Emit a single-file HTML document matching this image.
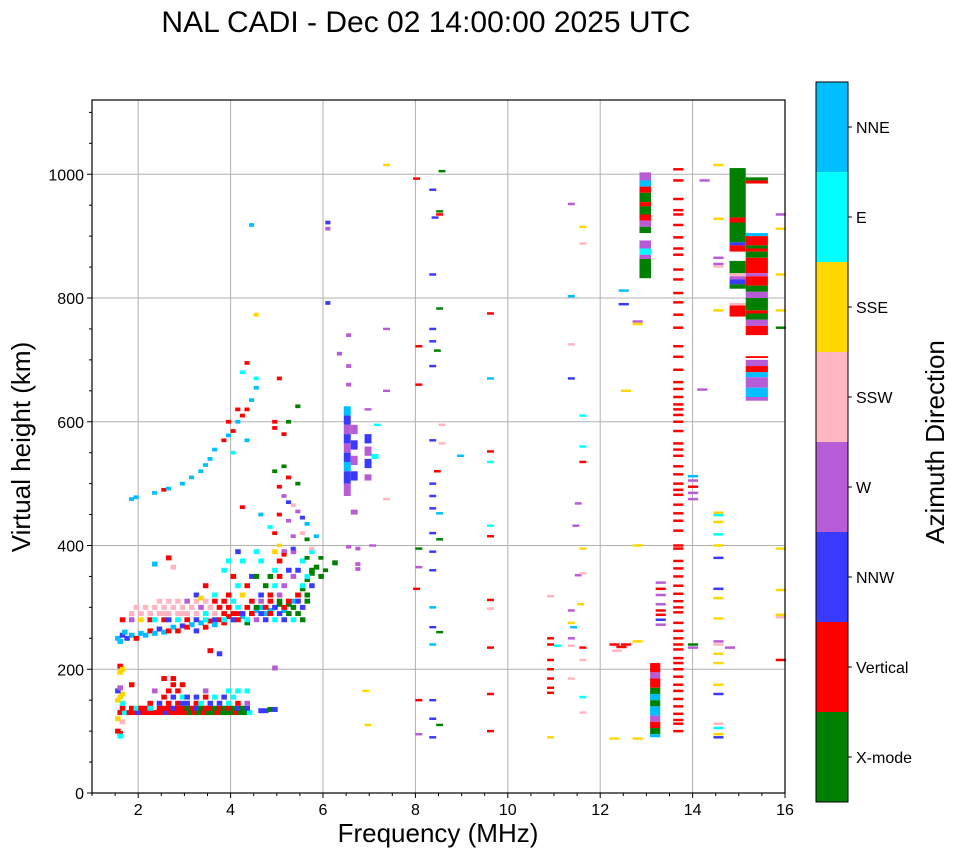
<!DOCTYPE html>
<html><head><meta charset="utf-8">
<style>
html,body{margin:0;padding:0;background:#fff;}
svg{display:block;font-family:"Liberation Sans","DejaVu Sans",sans-serif;}
</style></head>
<body>
<svg id="chart" width="958" height="857" viewBox="0 0 958 857" xmlns="http://www.w3.org/2000/svg">
<text x="426" y="32" font-size="30" text-anchor="middle">NAL CADI - Dec 02 14:00:00 2025 UTC</text>
<g id="grid"></g>
<g id="marks"></g>
<g id="axes"></g>
<text x="438" y="842" font-size="26" text-anchor="middle">Frequency (MHz)</text>
<text transform="translate(30,447) rotate(-90)" font-size="26" text-anchor="middle">Virtual height (km)</text>
<g id="cbar"></g>
<text transform="translate(944,442) rotate(-90)" font-size="26" text-anchor="middle">Azimuth Direction</text>
</svg>
<script>
// ---- data ----
const dirNames = ["X-mode","Vertical","NNW","W","SSW","SSE","E","NNE"];
const dirColors = ["#008000","#ff0000","#3a3aff","#b85bd6","#ffb6c1","#ffd700","#00ffff","#00bfff"];
const xTicks = [2,4,6,8,10,12,14,16];
const yTicks = [0,200,400,600,800,1000];

// [freq, height, dir]
const eLayer = [
[1.55,130,1],[1.65,130,6],[1.75,130,1],[1.85,130,1],[1.95,130,2],[2.05,130,1],[2.15,130,1],[2.25,130,1],[2.35,130,1],[2.45,130,1],[2.55,130,2],[2.65,130,1],[2.75,130,1],[2.85,130,1],[2.95,130,1],[3.05,130,0],[3.15,130,1],[3.25,130,0],[3.35,130,1],[3.45,130,0],[3.55,130,0],[3.65,130,1],[3.75,130,0],[3.85,130,0],[3.95,130,0],[4.05,130,1],[4.15,130,0],[4.25,130,0],[4.35,130,6],[4.6,133,2],[4.7,133,2],[4.8,135,0],[4.9,135,2],
[1.6,137,1],[1.8,137,1],[1.9,137,6],[2.0,137,1],[2.1,137,1],[2.2,137,6],[2.4,137,1],[2.5,137,1],[2.6,137,1],[2.7,137,2],[2.8,137,1],[2.9,137,1],[3.0,137,0],[3.1,137,1],[3.2,137,2],[3.3,137,0],[3.4,137,1],[3.5,137,1],[3.6,137,0],[3.7,137,1],[3.8,137,0],[3.9,137,1],[4.0,137,0],[4.1,137,2],[4.2,137,0],[4.3,137,2],
[1.6,145,6],[2.2,145,1],[2.4,145,2],[2.6,145,1],[2.8,145,1],[2.9,145,2],[3.0,145,2],[3.2,145,1],[3.3,145,6],[3.5,145,2],[3.7,145,2],[3.9,145,6],[4.1,145,1],[4.3,145,3],
[2.5,155,1],[2.7,155,2],[2.9,155,6],[3.0,155,2],[3.2,155,2],[3.4,155,1],[3.6,155,6],[3.8,155,2],[4.0,155,6],
[2.3,165,3],[2.6,165,1],[2.8,165,1],[3.4,165,3],[3.9,165,6],[4.1,165,6],[4.3,165,6],
[1.8,175,1],[2.7,175,1],[2.9,175,1],[2.5,185,1],[2.7,185,1],
[1.5,100,1],[1.55,96,1],[1.55,92,6],[1.5,150,5],[1.55,155,5],[1.6,160,5],[1.5,165,2],[1.55,170,3],[1.55,205,1],[1.6,200,5],[1.55,195,5],[4.9,202,3],[1.5,120,5],[1.6,115,4]
];
const fLayer = [
[1.5,250,7],[1.55,245,7],[1.6,255,2],[1.65,260,7],[1.7,250,2],[1.8,255,7],[1.9,250,1],[2.0,258,7],[2.1,255,7],[2.2,262,1],[2.3,258,7],[2.4,265,2],[2.5,260,7],[2.6,262,1],[2.7,268,7],[2.8,262,1],[2.9,270,2],[3.0,268,1],[3.1,272,7],[3.2,262,2],[3.3,275,7],[3.4,268,1],[3.5,278,1],[3.6,272,7],[3.7,280,1],[3.8,275,1],[3.9,285,1],[4.0,280,7],[4.1,290,1],[4.2,285,7],[4.3,275,0],[4.4,290,2],[4.5,295,7],[4.6,300,7],[4.7,290,7],[4.8,295,7],[4.9,300,7],[5.0,305,0],[5.1,295,7],[5.2,305,0],[5.3,310,7],[5.4,320,0],[5.5,330,0],[5.6,345,0],[5.7,355,0],[5.8,365,0],[5.9,350,0],[6.2,372,0],
[1.6,280,1],[1.8,280,3],[2.0,280,5],[2.2,280,1],[2.3,280,6],[2.5,280,1],[2.6,280,2],[2.8,280,6],[3.0,280,1],[3.2,280,2],[3.4,280,6],[3.6,280,2],[3.8,280,6],[4.0,280,2],[4.1,280,1],[4.3,280,6],[4.5,280,3],[4.7,280,2],[4.9,280,6],[5.1,280,2],[5.3,280,6],[5.5,280,0],
[1.8,290,4],[2.0,290,4],[2.2,290,4],[2.4,290,4],[2.5,290,4],[2.6,290,4],[2.8,290,4],[2.9,290,4],[3.0,290,4],[3.2,290,4],[3.4,290,6],[3.6,290,4],[3.8,290,1],[4.0,290,1],[4.2,290,2],[4.4,290,1],[4.6,290,2],[4.8,290,1],[5.0,290,2],[5.2,290,0],[5.4,290,0],
[1.9,300,4],[2.1,300,4],[2.3,300,4],[2.5,300,4],[2.7,300,4],[2.9,300,4],[3.1,300,4],[3.3,300,3],[3.5,300,4],[3.7,300,1],[3.9,300,1],[4.1,300,6],[4.3,300,1],[4.5,300,0],[4.7,300,1],[4.9,300,2],[5.1,300,1],[5.3,300,0],[5.5,300,2],
[2.4,310,4],[2.6,310,4],[2.8,310,4],[3.0,310,3],[3.2,310,4],[3.4,310,4],[3.6,310,1],[3.8,310,1],[4.0,310,6],[4.4,310,1],[4.6,310,3],[4.8,310,1],[5.0,310,0],[5.2,310,1],[5.4,310,2],[5.6,310,0],
[3.2,320,2],[3.6,320,6],[3.9,320,1],[4.2,320,5],[4.6,320,2],[4.8,320,1],[5.0,320,3],[5.4,320,1],[5.6,320,0],
[3.4,335,1],[4.1,335,6],[4.3,335,1],[4.7,335,0],[4.9,335,6],[5.1,335,3],[5.5,335,6],[5.7,335,2],
[4.0,350,1],[4.4,350,2],[4.5,350,0],[4.8,350,0],[5.0,350,1],[5.3,350,3],[5.6,350,6],
[3.8,360,6],[4.9,360,6],[5.2,360,2],[5.4,360,2],[5.7,360,0],
[3.9,375,6],[4.2,375,6],[4.6,375,6],[5.0,375,1],[5.5,375,6],
[4.1,390,2],[4.5,390,6],[4.9,390,5],[5.1,390,3],[5.3,390,3],[5.7,390,6],
[2.3,370,7],[2.6,380,1],[2.7,365,4],[3.3,315,5],[3.5,230,1],[3.7,225,2]
];
const upperTrace = [
[1.8,475,7],[1.9,478,7],[2.3,485,7],[2.5,490,1],[2.6,492,7],[2.9,500,7],[3.1,510,7],[3.3,520,7],[3.4,530,7],[3.5,540,7],[3.6,555,7],[3.8,570,1],[3.9,578,7],[4.0,585,1],[4.1,600,7],[4.2,610,1],[4.3,620,1],[4.4,635,7],[4.5,655,7],[4.3,695,1],[4.2,680,6],[4.1,620,1],[3.9,600,1],[4.3,570,7],[4.0,550,6],[4.5,670,6],[4.2,462,1],
[4.9,590,1],[4.9,600,1],[5.1,580,1],[5.0,670,1],[5.2,600,0],[5.4,625,0],[4.9,520,0],[5.0,495,1],[5.1,480,3],[5.2,470,2],[5.3,465,4],[5.4,455,3],[5.5,445,2],[5.6,435,7],[5.0,450,1],[5.2,440,3],[5.4,500,0],[5.2,510,1],[5.1,528,0],[5.5,420,4],[5.6,410,0],[5.3,415,3],[5.0,400,5],[5.8,415,7],[5.7,395,4],[4.9,420,1],[5.1,385,1],[5.3,395,2],[5.6,380,0],[5.9,380,0],[6.0,360,0],
[4.4,918,7],[6.05,922,2],[6.05,912,3],[6.05,792,2],[6.3,710,3],[4.5,773,5],[4.6,450,7],[4.8,430,6],
[6.5,740,3],[6.5,690,3],[6.5,660,3],[6.7,395,3],[6.7,370,3],[6.7,362,3],[6.5,398,3]
];
// mid-frequency scatter [freq, height, dir]
const midScatter = [
[7.95,993,1],[8.0,722,1],[8.0,660,1],[8.0,395,0],[8.3,975,2],[8.35,930,2],[8.5,1005,0],[8.45,940,0],[8.45,935,1],[8.3,838,2],[8.45,783,0],[8.3,750,2],[8.3,730,2],[8.4,715,0],[8.3,690,2],[8.5,595,4],[8.3,570,2],[8.5,565,4],[8.4,520,1],[8.3,500,2],[8.3,480,2],[8.3,460,2],[8.45,452,7],[8.3,420,2],[8.45,410,0],[8.3,390,2],[8.3,360,2],[8.3,300,7],[8.3,268,2],[8.45,260,0],[8.3,240,7],[8.3,150,2],[8.3,120,2],[8.45,110,0],[8.3,90,2],[8.0,150,1],[8.0,95,3],[7.95,330,1],[8.0,365,3],[8.9,545,7],
[9.55,775,1],[9.55,670,7],[9.55,552,1],[9.55,535,6],[9.55,432,6],[9.55,415,1],[9.55,312,1],[9.55,298,4],[9.55,235,1],[9.55,160,1],[9.55,100,1],
[7.3,1015,5],[7.3,750,3],[7.3,650,3],[7.1,595,6],[7.0,400,3],[7.3,475,4],[6.85,165,5],[6.9,110,5],[6.9,620,3],
[10.85,318,4],[10.85,250,1],[10.85,240,1],[10.85,215,1],[10.85,200,1],[10.85,185,1],[10.85,170,1],[10.85,162,1],[10.85,90,5],[11.0,238,6],[11.3,952,3],[11.3,803,7],[11.3,725,4],[11.3,670,2],[11.45,468,3],[11.4,432,3],[11.45,352,3],[11.3,295,3],[11.3,275,5],[11.35,268,7],[11.3,238,4],[11.3,185,4],[11.55,915,5],[11.55,888,4],[11.55,610,6],[11.55,560,6],[11.55,535,1],[11.55,395,5],[11.55,355,4],[11.5,305,5],[11.55,235,1],[11.55,215,4],[11.55,155,6],[11.55,130,4],[11.3,250,3]
];
// high-frequency dashes [freq, height, dir]
const highDashes = [
[12.2,240,1],[12.35,236,1],[12.45,240,1],[12.2,88,5],[12.45,650,5],[12.4,812,7],[12.4,790,2],[12.7,762,3],[12.7,758,5],[12.7,400,5],[12.7,245,5],[12.7,88,5],[12.25,230,4],
[13.9,512,7],[13.9,505,3],[13.9,495,1],[13.9,485,3],[13.9,475,3],[13.9,240,0],[13.9,235,3],
[14.45,1015,5],[14.45,928,5],[14.45,865,3],[14.45,855,3],[14.45,851,4],[14.45,780,5],[14.45,453,5],[14.45,449,6],[14.45,438,5],[14.45,418,6],[14.45,400,5],[14.45,380,2],[14.45,330,2],[14.45,315,5],[14.45,282,5],[14.45,245,3],[14.45,240,4],[14.45,225,5],[14.45,210,5],[14.45,175,5],[14.45,160,2],[14.45,112,4],[14.45,105,6],[14.45,95,5],[14.45,90,2],[14.7,235,3],[14.15,990,3],[14.1,652,3],
[15.8,935,3],[15.8,912,5],[15.8,838,5],[15.8,780,5],[15.8,752,0],[15.8,395,5],[15.8,328,5],[15.8,288,5],[15.8,284,4],[15.8,215,1],
[13.2,340,3],[13.2,330,1],[13.2,320,3],[13.2,305,3],[13.2,295,1],[13.2,288,1],[13.2,280,2],[13.2,272,3]
];
const col137Heights = [1008,990,960,942,935,918,898,880,870,846,830,808,793,773,752,722,705,684,664,653,640,628,620,611,600,585,565,555,545,528,515,500,490,482,466,452,440,424,400,395,375,363,350,335,322,310,300,292,275,262,250,240,232,218,210,200,188,175,165,152,140,128,118,112,100];
// blocks [freqStart, freqEnd, hLow, hHigh, dir]
const blocks = [
[12.85,13.1,990,1003,3],[12.85,13.1,980,990,7],[12.85,13.1,970,980,1],[12.85,13.1,955,970,0],[12.85,13.1,948,955,1],[12.85,13.1,935,948,0],[12.85,13.1,925,935,1],[12.85,13.1,915,925,3],[12.85,13.1,905,915,0],[12.85,13.1,880,893,3],[12.85,13.1,870,880,6],[12.85,13.1,863,870,3],[12.85,13.1,832,863,0],
[13.08,13.3,195,210,1],[13.08,13.3,185,195,3],[13.08,13.3,170,185,1],[13.08,13.3,160,170,0],[13.08,13.3,150,160,7],[13.08,13.3,140,150,0],[13.08,13.3,125,140,7],[13.08,13.3,115,125,3],[13.08,13.3,105,115,1],[13.08,13.3,95,105,0],[13.08,13.3,90,95,7],
[14.8,15.15,930,1010,0],[14.8,15.15,922,930,1],[14.8,15.15,890,922,0],[14.8,15.15,885,890,2],[14.8,15.15,875,885,1],[14.8,15.15,840,860,0],[14.8,15.15,835,840,4],[14.8,15.15,830,835,3],[14.8,15.15,822,830,2],[14.8,15.15,815,822,0],[14.8,15.15,770,788,1],[14.8,15.15,788,792,4],
[15.15,15.63,990,995,0],[15.15,15.63,985,990,1],[15.15,15.63,900,905,7],[15.15,15.63,885,900,1],[15.15,15.63,880,885,0],[15.15,15.63,875,880,1],[15.15,15.63,865,875,0],[15.15,15.63,840,865,1],[15.15,15.63,835,840,3],[15.15,15.63,820,835,1],[15.15,15.63,810,820,0],[15.15,15.63,800,810,3],[15.15,15.63,780,800,0],[15.15,15.63,775,780,1],[15.15,15.63,765,775,0],[15.15,15.63,755,765,3],[15.15,15.63,740,755,1],[15.15,15.63,703,706,1],[15.15,15.63,690,700,3],[15.15,15.63,680,690,1],[15.15,15.63,672,680,7],[15.15,15.63,655,672,3],[15.15,15.63,640,655,7],[15.15,15.63,634,640,3],
[6.45,6.6,610,625,7],[6.45,6.6,595,610,2],[6.45,6.6,580,595,3],[6.45,6.6,565,580,2],[6.45,6.6,550,565,3],[6.45,6.6,535,550,2],[6.45,6.6,520,535,7],[6.45,6.6,500,520,2],[6.45,6.6,480,500,3],
[6.6,6.75,580,595,3],[6.6,6.75,555,570,2],[6.6,6.75,530,545,3],[6.6,6.75,505,520,2],[6.6,6.75,450,458,3],
[6.9,7.05,565,580,2],[6.9,7.05,545,560,3],[6.9,7.05,525,540,2],[6.9,7.05,505,515,3],[7.05,7.2,540,548,6]
];

// ---- scales ----
const X0=92, X1=785, Y0=793, Y1=100, FMIN=1, FMAX=16, HMIN=0, HMAX=1120;
const xs = f => X0 + (f-FMIN)/(FMAX-FMIN)*(X1-X0);
const ys = h => Y0 - (h-HMIN)/(HMAX-HMIN)*(Y0-Y1);
const NS="http://www.w3.org/2000/svg";
function mk(tag, parent, attrs){const e=document.createElementNS(NS,tag);for(const k in attrs)e.setAttribute(k,attrs[k]);parent.appendChild(e);return e;}

const grid=document.getElementById('grid'), marks=document.getElementById('marks'), axes=document.getElementById('axes'), cbar=document.getElementById('cbar');
xTicks.forEach(t=>{ if(t<FMAX){ const l=mk('line',grid,{x1:xs(t),x2:xs(t),y1:Y1,y2:Y0,stroke:'#b0b0b0','stroke-width':1});

}});
yTicks.forEach(t=>{ const l=mk('line',grid,{x1:X0,x2:X1,y1:ys(t),y2:ys(t),stroke:'#b0b0b0','stroke-width':1});

});

function cell(f0,f1,h0,h1,d,name){
  const r=mk('rect',marks,{x:xs(f0),y:ys(h1),width:Math.max(1,xs(f1)-xs(f0)),height:Math.max(1.5,ys(h0)-ys(h1)),fill:dirColors[d]});
  
  
}
eLayer.forEach(p=>cell(p[0],p[0]+0.12,p[1]-4,p[1]+4,p[2],'e-layer-echo'));
fLayer.forEach(p=>cell(p[0],p[0]+0.12,p[1]-4,p[1]+4,p[2],'f-layer-echo'));
upperTrace.forEach(p=>cell(p[0],p[0]+0.11,p[1]-3,p[1]+3,p[2],'upper-echo'));
midScatter.forEach(p=>cell(p[0],p[0]+0.15,p[1]-2,p[1]+2,p[2],'scatter-echo'));
highDashes.forEach(p=>cell(p[0],p[0]+0.22,p[1]-2,p[1]+2,p[2],'high-freq-echo'));
col137Heights.forEach(h=>cell(13.58,13.8,h-2,h+2,1,'vertical-echo-13-7'));
blocks.forEach(b=>cell(b[0],b[1],b[2],b[3],b[4],'echo-block'));

// axes
mk('rect',axes,{x:X0,y:Y1,width:X1-X0,height:Y0-Y1,fill:'none',stroke:'#000','stroke-width':1.2});
xTicks.forEach(t=>{ mk('line',axes,{x1:xs(t),x2:xs(t),y1:Y0,y2:Y0+5,stroke:'#000'});
 const tx=mk('text',axes,{x:xs(t),y:Y0+22,'font-size':16,'text-anchor':'middle'}); tx.textContent=t;
 
 });
for(let m=1;m<FMAX;m+=0.5){ if(m%2!==0) mk('line',axes,{x1:xs(m),x2:xs(m),y1:Y0,y2:Y0+3,stroke:'#000'}); }
yTicks.forEach(t=>{ mk('line',axes,{x1:X0-5,x2:X0,y1:ys(t),y2:ys(t),stroke:'#000'});
 const tx=mk('text',axes,{x:X0-8,y:ys(t)+6,'font-size':16,'text-anchor':'end'}); tx.textContent=t;
 
 });
for(let m=50;m<HMAX;m+=50){ if(m%200!==0) mk('line',axes,{x1:X0-3,x2:X0,y1:ys(m),y2:ys(m),stroke:'#000'}); }

// colorbar
const CB_X=816, CB_W=32, CB_TOP=82, CB_BOT=802, seg=(CB_BOT-CB_TOP)/dirNames.length;
dirNames.forEach((n,i)=>{
  const y0=CB_BOT-(i+1)*seg;
  const r=mk('rect',cbar,{x:CB_X,y:y0,width:CB_W,height:seg,fill:dirColors[i]});
  
  
  mk('line',cbar,{x1:CB_X+CB_W,x2:CB_X+CB_W+4,y1:y0+seg/2,y2:y0+seg/2,stroke:'#000'});
  const t=mk('text',cbar,{x:CB_X+CB_W+8,y:y0+seg/2+6,'font-size':16}); t.textContent=n;
  
  
});
mk('rect',cbar,{x:CB_X,y:CB_TOP,width:CB_W,height:CB_BOT-CB_TOP,fill:'none',stroke:'#000','stroke-width':1});
</script>
</body></html>
